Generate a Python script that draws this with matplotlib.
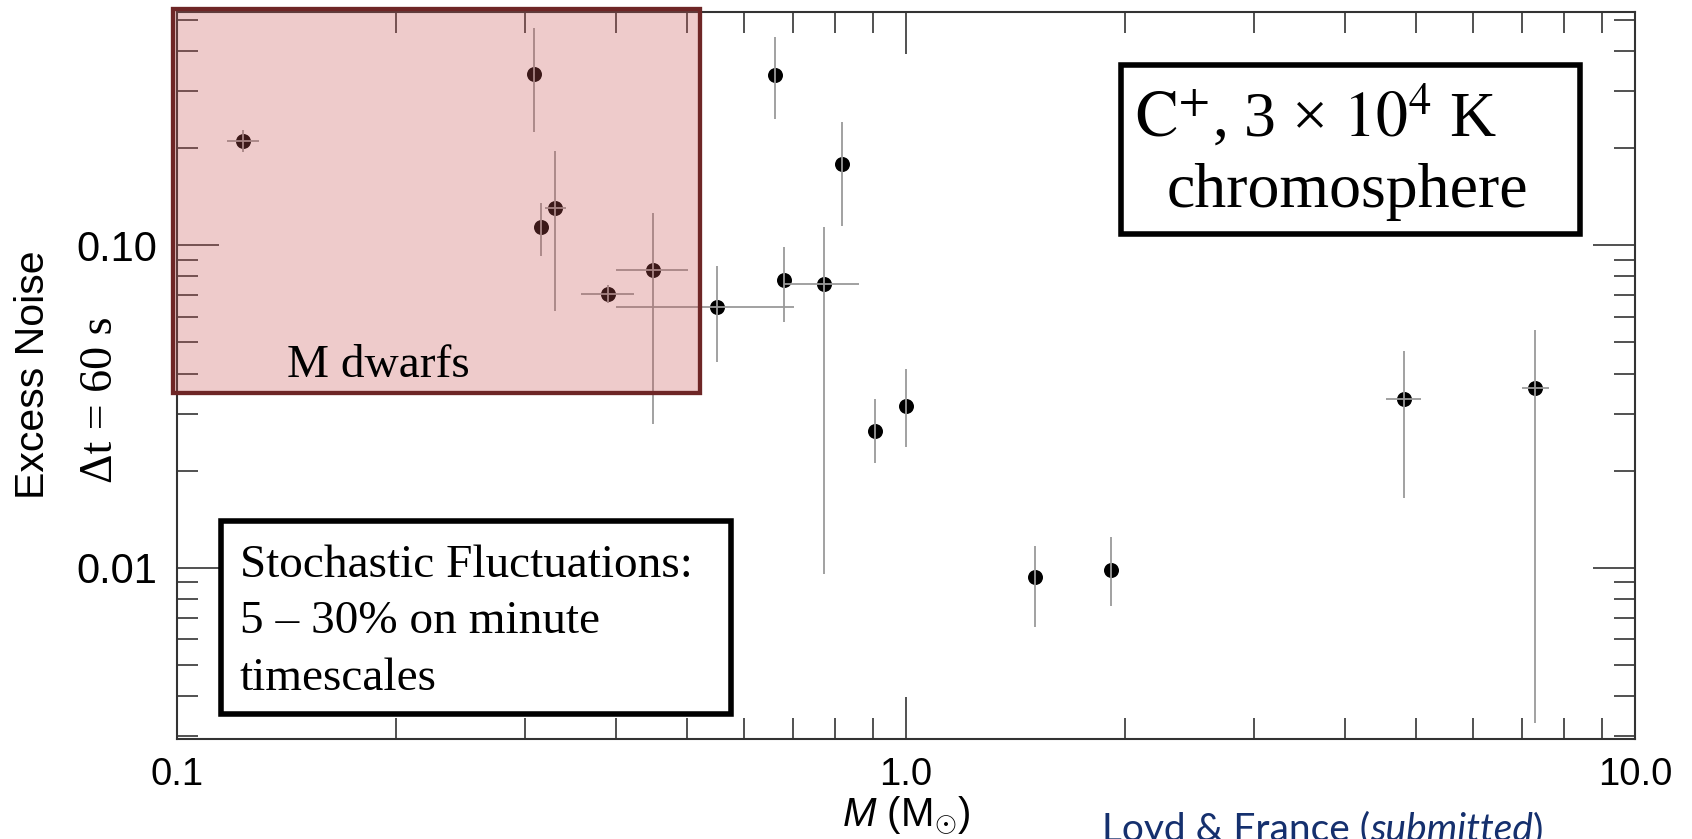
import numpy as np
import matplotlib
matplotlib.use("Agg")
import matplotlib.pyplot as plt
from matplotlib.patches import Rectangle
from matplotlib.ticker import NullFormatter

# ---------------- data ----------------
mass    = [0.1233, 0.309, 0.3155, 0.3303, 0.390, 0.450, 0.5504, 0.6616, 0.6809,
           0.7710, 0.817, 0.906, 1.000, 1.501, 1.912, 4.816, 7.301]
mass_lo = [0.1170, 0.309, 0.3155, 0.3197, 0.358, 0.3997, 0.3997, 0.6616, 0.6809,
           0.6809, 0.817, 0.906, 1.000, 1.501, 1.912, 4.558, 6.993]
mass_hi = [0.1294, 0.309, 0.3155, 0.3413, 0.4236, 0.5018, 0.7027, 0.6616, 0.6809,
           0.862, 0.817, 0.906, 1.000, 1.501, 1.912, 5.087, 7.620]
noise    = [0.2106, 0.339, 0.1142, 0.1302, 0.0706, 0.0840, 0.0642, 0.3375, 0.0780,
            0.0759, 0.179, 0.02655, 0.0317, 0.00934, 0.00984, 0.03337, 0.03608]
noise_lo = [0.1947, 0.224, 0.0926, 0.0627, 0.0661, 0.0279, 0.0435, 0.2464, 0.0579,
            0.00956, 0.1148, 0.0211, 0.0236, 0.00656, 0.0076, 0.01642, 0.00329]
noise_hi = [0.2278, 0.471, 0.1355, 0.196, 0.0753, 0.1262, 0.0863, 0.4416, 0.0990,
            0.1137, 0.2417, 0.0333, 0.0413, 0.01168, 0.01248, 0.0471, 0.0546]

x_ticks = [0.1, 1.0, 10.0]
x_tick_labels = ["0.1", "1.0", "10.0"]
y_ticks = [0.01, 0.1]
y_tick_labels = ["0.01", "0.10"]

# ---------------- style ----------------
plt.rcParams["font.family"] = ["Liberation Sans", "DejaVu Sans"]
plt.rcParams["mathtext.fontset"] = "custom"
plt.rcParams["mathtext.rm"] = "Liberation Sans"
plt.rcParams["mathtext.it"] = "Liberation Sans:italic"
plt.rcParams["mathtext.bf"] = "Liberation Sans:bold"

W, H = 1692, 839
fig = plt.figure(figsize=(W / 100, H / 100), dpi=100)
ax = fig.add_axes([177 / W, (H - 739) / H, (1635 - 177) / W, (739 - 12) / H])
ax.set_xscale("log")
ax.set_yscale("log")
ax.set_xlim(0.1, 10.0)
ax.set_ylim(0.00294, 0.529)

m = np.array(mass)
n = np.array(noise)
xerr = [m - np.array(mass_lo), np.array(mass_hi) - m]
yerr = [n - np.array(noise_lo), np.array(noise_hi) - n]

ax.plot(m, n, "o", color="black", markersize=10.8, markeredgewidth=0, zorder=3)
ax.errorbar(m, n, xerr=xerr, yerr=yerr, fmt="none", ecolor="#9a9a9a",
            elinewidth=1.3, capsize=0, zorder=4)

# ticks
ax.set_xticks(x_ticks, x_tick_labels)
ax.set_yticks(y_ticks, y_tick_labels)
ax.xaxis.set_minor_formatter(NullFormatter())
ax.yaxis.set_minor_formatter(NullFormatter())
ax.tick_params(which="both", direction="in", top=True, right=True,
               width=1.1, color="#222222", labelcolor="black")
ax.tick_params(which="major", length=30)
ax.tick_params(which="minor", length=15)
ax.tick_params(axis="x", which="major", pad=13, labelsize=27.5)
ax.tick_params(axis="y", which="major", pad=14, labelsize=30)
for sp in ax.spines.values():
    sp.set_linewidth(1.5)
    sp.set_color("#333333")

# ---------------- annotation boxes ----------------
# M dwarf region
ax.add_patch(Rectangle((-0.0025, 0.4762), 0.3589 + 0.0025, 1.0038 - 0.4762,
                       transform=ax.transAxes, clip_on=False,
                       facecolor=(0.78, 0.33, 0.33, 0.30),
                       edgecolor="#6E2626", linewidth=3.1, zorder=6))
ax.text(0.0754, 0.498, "M dwarfs", transform=ax.transAxes,
        family="Liberation Serif", fontsize=34, ha="left", va="baseline", zorder=7)

# C+ box
ax.add_patch(Rectangle((0.6475, 0.6953), 0.9626 - 0.6475, 0.9271 - 0.6953,
                       transform=ax.transAxes, clip_on=False,
                       facecolor="white", edgecolor="black", linewidth=4.0, zorder=6))
ax.text(0.6571, 0.8285, r"$\mathrm{C}^{+}$, 3 \u00d7 $\mathrm{10}^{4}$ K".replace("\\u00d7", "\u00d7"),
        transform=ax.transAxes, family="Liberation Serif", math_fontfamily="stix",
        fontsize=46, ha="left", va="baseline", zorder=7)
ax.text(0.6788, 0.7322, "chromosphere", transform=ax.transAxes,
        family="Liberation Serif", fontsize=46, ha="left", va="baseline", zorder=7)

# Stochastic fluctuations box
ax.add_patch(Rectangle((0.0305, 0.0344), 0.3803 - 0.0305, 0.2999 - 0.0344,
                       transform=ax.transAxes, clip_on=False,
                       facecolor="white", edgecolor="black", linewidth=4.0, zorder=6))
stoch_lines = ["Stochastic Fluctuations:", "5 \u2013 30% on minute", "timescales"]
base_px = [576.7, 633.3, 690.0]
for line, bp in zip(stoch_lines, base_px):
    ax.text(0.0432, (739 - bp) / 727, line, transform=ax.transAxes,
            family="Liberation Serif", fontsize=34, ha="left", va="baseline", zorder=7)

# ---------------- axis labels ----------------
fig.text(44 / W, (H - 375) / H, "Excess Noise", rotation=90, rotation_mode="anchor",
         ha="center", va="baseline", fontsize=29.5, family="Liberation Sans")
fig.text(112 / W, (H - 400) / H, "\u0394t = 60 s", rotation=90, rotation_mode="anchor",
         ha="center", va="baseline", fontsize=33, family="Liberation Serif")
fig.text(906 / W, (H - 826) / H, r"$M$ (M$_{\odot}$)", ha="center", va="baseline",
         fontsize=29)

# ---------------- citation (cut off at bottom, as in the reference) ----------------
c_col = "#15306E"
yb = (H - 841) / H
t1 = fig.text(1102 / W, yb, "Loyd & France (", family="Lato",
              fontsize=28, color=c_col, ha="left", va="baseline")
t2 = fig.text(0, 0, "submitted", family="Lato", style="italic", fontsize=28,
              color=c_col, ha="left", va="baseline")
t3 = fig.text(0, 0, ")", family="Lato", fontsize=28, color=c_col,
              ha="left", va="baseline")
fig.canvas.draw()
r = fig.canvas.get_renderer()
bb1 = t1.get_window_extent(r)
t2.set_position((bb1.x1 / W, yb))
fig.canvas.draw()
bb2 = t2.get_window_extent(r)
t3.set_position((bb2.x1 / W, yb))

fig.savefig("out.png", dpi=100)
